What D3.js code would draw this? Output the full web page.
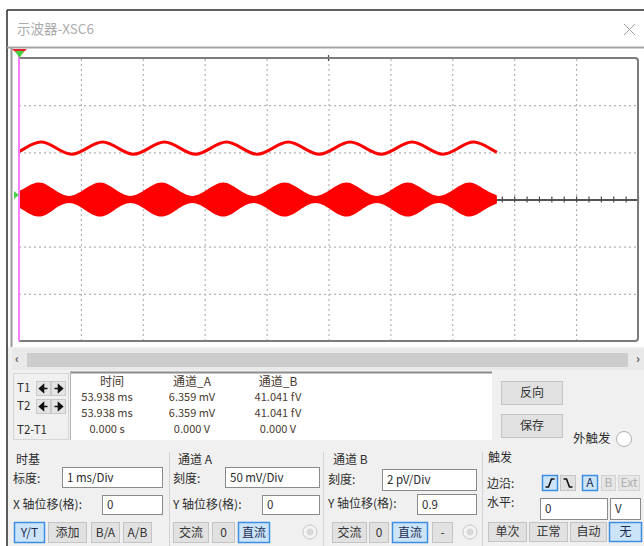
<!DOCTYPE html>
<html>
<head>
<meta charset="utf-8">
<script src="https://cdn.jsdelivr.net/npm/d3@7"></script>
<style>
  html, body { margin: 0; padding: 0; background: #ffffff; }
  svg { display: block; }
  text { font-family: "Noto Sans CJK SC", "Noto Sans", sans-serif; }
</style>
</head>
<body>
<svg id="scope" width="644" height="546"></svg>
<script>
// ---- Channel A: low-frequency sine (time in ms, voltage in mV) ----
const timeA = [0, 0.10, 0.35, 0.60, 0.85, 1.10, 1.35, 1.60, 1.85, 2.10, 2.35, 2.60, 2.85,
  3.10, 3.35, 3.60, 3.85, 4.10, 4.35, 4.60, 4.85, 5.10, 5.35, 5.60, 5.85, 6.10, 6.35,
  6.60, 6.85, 7.10, 7.35, 7.60, 7.72];
const chanA = [50.7, 54.5, 61.0, 54.5, 48.0, 54.5, 61.0, 54.5, 48.0, 54.5, 61.0, 54.5, 48.0,
  54.5, 61.0, 54.5, 48.0, 54.5, 61.0, 54.5, 48.0, 54.5, 61.0, 54.5, 48.0, 54.5, 61.0,
  54.5, 48.0, 54.5, 61.0, 54.5, 50.0];

// ---- Channel B: AM signal, envelope half-amplitude (time in ms, pV) ----
const timeB = [0, 0.06, 0.31, 0.56, 0.81, 1.06, 1.31, 1.55, 1.80, 2.05, 2.30, 2.55, 2.80,
  3.05, 3.30, 3.54, 3.79, 4.04, 4.29, 4.54, 4.79, 5.04, 5.29, 5.53, 5.78, 6.03, 6.28,
  6.53, 6.78, 7.03, 7.28, 7.52, 7.72];
const envB = [0.40, 0.43, 0.72, 0.43, 0.15, 0.43, 0.72, 0.43, 0.15, 0.43, 0.72, 0.43, 0.15,
  0.43, 0.72, 0.43, 0.15, 0.43, 0.72, 0.43, 0.15, 0.43, 0.72, 0.43, 0.15, 0.43, 0.72,
  0.43, 0.15, 0.43, 0.72, 0.43, 0.17];

// ---- Read-out table ----
const readHeaders = ["时间", "通道_A", "通道_B"];
const readT1 = ["53.938 ms", "6.359 mV", "41.041 fV"];
const readT2 = ["53.938 ms", "6.359 mV", "41.041 fV"];
const readDiff = ["0.000 s", "0.000 V", "0.000 V"];

// ---- Control settings ----
const timebase = "1 ms/Div";
const xOffset = "0";
const scaleA = "50 mV/Div";
const offsetA = "0";
const scaleB = "2 pV/Div";
const offsetB = "0.9";
const trigLevel = "0";
const trigUnit = "V";

const svg = d3.select("#scope");

// ---------- window chrome ----------
svg.append("rect").attr("x", 0).attr("y", 0).attr("width", 644).attr("height", 546).attr("fill", "#ffffff");
svg.append("rect").attr("x", 7).attr("y", 347).attr("width", 637).attr("height", 199).attr("fill", "#f0f0f0");
svg.append("line").attr("x1", 7).attr("x2", 644).attr("y1", 10).attr("y2", 10).attr("stroke", "#2a2a2a").attr("stroke-width", 1.5);
svg.append("line").attr("x1", 7).attr("x2", 7).attr("y1", 10).attr("y2", 546).attr("stroke", "#2a2a2a").attr("stroke-width", 1.5);
svg.append("text").attr("x", 17).attr("y", 29.5).attr("dy", "0.35em")
  .attr("font-size", 13.5).attr("fill", "#ababab").text("示波器-XSC6");
svg.append("path").attr("d", "M624,24L635,35M635,24L624,35").attr("stroke", "#a0a0a0").attr("stroke-width", 1).attr("fill", "none");
svg.append("line").attr("x1", 7).attr("x2", 644).attr("y1", 47.5).attr("y2", 47.5).attr("stroke", "#a6a6a6").attr("stroke-width", 2);
svg.append("line").attr("x1", 11.5).attr("x2", 11.5).attr("y1", 48).attr("y2", 347).attr("stroke", "#9a9a9a").attr("stroke-width", 2);

// ---------- scope screen ----------
const L = 19, R = 638, T = 58, B = 341;
const x = d3.scaleLinear().domain([0, 10]).range([L, R]);          // 1 ms/Div, 10 divisions
const yA = d3.scaleLinear().domain([-150, 150]).range([B, T]);     // 50 mV/Div, 6 divisions
const yB = d3.scaleLinear().domain([-6, 6]).range([B, T]);         // 2 pV/Div

const screen = svg.append("g");
screen.append("rect").attr("x", L).attr("y", T).attr("width", R - L).attr("height", B - T).attr("fill", "#ffffff");

// dotted division grid
const gx = screen.append("g").attr("transform", `translate(0,${B})`)
  .call(d3.axisBottom(x).tickValues(d3.range(1, 10)).tickSize(-(B - T)).tickFormat(""));
const gy = screen.append("g").attr("transform", `translate(${L},0)`)
  .call(d3.axisLeft(yA).tickValues([-100, -50, 0, 50, 100]).tickSize(-(R - L)).tickFormat(""));
[gx, gy].forEach(g => {
  g.select(".domain").remove();
  g.selectAll(".tick line").attr("stroke", "#b3b3b3").attr("stroke-width", 1.2).attr("stroke-dasharray", "2,3");
});

// centre time axis with minor ticks
const minor = d3.range(0, 10.001, 0.2);
[d3.axisBottom(x), d3.axisTop(x)].forEach(ax => {
  const g = screen.append("g").attr("transform", `translate(0,${yA(0)})`)
    .call(ax.tickValues(minor).tickSize(3).tickSizeOuter(0).tickFormat(""));
  g.select(".domain").attr("stroke", "#4a4a4a").attr("stroke-width", 1.6);
  g.selectAll(".tick line").attr("stroke", "#4a4a4a").attr("stroke-width", 1.2);
});
// small mark at the top of the centre division
screen.append("line").attr("x1", x(5)).attr("x2", x(5)).attr("y1", T - 3).attr("y2", T + 3)
  .attr("stroke", "#4a4a4a").attr("stroke-width", 1.2);

// screen border
screen.append("path")
  .attr("d", `M${L},${T}H${R - 3}Q${R},${T} ${R},${T + 3}V${B - 3}Q${R},${B} ${R - 3},${B}H${L}`)
  .attr("fill", "none").attr("stroke", "#7c7c7c").attr("stroke-width", 2);

// channel B: AM burst drawn as its envelope area
const ptsB = timeB.map((t, i) => ({ t, v: envB[i] }));
screen.append("path").datum(ptsB)
  .attr("fill", "#ff0000")
  .attr("d", d3.area().x(d => x(d.t)).y0(d => yB(-d.v)).y1(d => yB(d.v)).curve(d3.curveNatural));

// channel A trace
const ptsA = timeA.map((t, i) => ({ t, v: chanA[i] }));
screen.append("path").datum(ptsA)
  .attr("fill", "none").attr("stroke", "#ff0000").attr("stroke-width", 3)
  .attr("d", d3.line().x(d => x(d.t)).y(d => yA(d.v)).curve(d3.curveNatural));

// cursor line and markers
screen.append("line").attr("x1", x(0)).attr("x2", x(0)).attr("y1", 52).attr("y2", B)
  .attr("stroke", "#ff7cff").attr("stroke-width", 2);
screen.append("path").attr("d", "M12,49L27,49L19.5,56Z").attr("fill", "#e8222a");
screen.append("path").attr("d", "M15,51L24,51L19.5,58Z").attr("fill", "#3fcf3f");
screen.append("path").attr("d", "M14,191L19,195L14,199Z").attr("fill", "#4ed04e");

// ---------- scroll bar ----------
svg.append("rect").attr("x", 12).attr("y", 348).attr("width", 632).attr("height", 22).attr("fill", "#e9e9e9");
svg.append("rect").attr("x", 27).attr("y", 353).attr("width", 601).attr("height", 14).attr("fill", "#cdcdcd");
svg.append("text").attr("x", 17).attr("y", 359).attr("dy", "0.35em").attr("font-size", 12).attr("font-weight", "bold")
  .attr("fill", "#555").attr("text-anchor", "middle").text("‹");
svg.append("text").attr("x", 638).attr("y", 359).attr("dy", "0.35em").attr("font-size", 12).attr("font-weight", "bold")
  .attr("fill", "#555").attr("text-anchor", "middle").text("›");

// ---------- helpers ----------
function label(px, py, str, opts = {}) {
  return svg.append("text").attr("x", px).attr("y", py).attr("dy", "0.35em")
    .attr("font-size", opts.size || 12).attr("fill", opts.color || "#2e2e2e")
    .attr("text-anchor", opts.anchor || "start").attr("font-weight", opts.weight || "normal")
    .text(str);
}
function button(x0, y0, w, h, str, state) {
  const sel = state === "on", dis = state === "off";
  svg.append("rect").attr("x", x0 + 0.5).attr("y", y0 + 0.5).attr("width", w - 1).attr("height", h - 1)
    .attr("fill", sel ? "#cce4f7" : (dis ? "#e6e6e6" : "#e1e1e1"))
    .attr("stroke", sel ? "#3d8ee0" : (dis ? "#d3d3d3" : "#c4c4c4")).attr("stroke-width", sel ? 1.5 : 1);
  if (str !== null) {
    label(x0 + w / 2, y0 + h / 2, str, { anchor: "middle", size: 12,
      color: dis ? "#b0b0b0" : (sel ? "#1c2d55" : "#333") });
  }
}
function input(x0, y0, w, h, str) {
  svg.append("rect").attr("x", x0 + 0.5).attr("y", y0 + 0.5).attr("width", w - 1).attr("height", h - 1)
    .attr("fill", "#ffffff").attr("stroke", "#8a8a8a");
  label(x0 + 5, y0 + h / 2, str, { size: 11.5, color: "#2a2a2a" });
}
function radio(cx, cy) {
  svg.append("circle").attr("cx", cx).attr("cy", cy).attr("r", 7).attr("fill", "#f4f4f4").attr("stroke", "#c8c8c8");
  svg.append("circle").attr("cx", cx).attr("cy", cy).attr("r", 3.5).attr("fill", "#d8d8d8");
}

// ---------- cursor controls ----------
svg.append("rect").attr("x", 13.5).attr("y", 373.5).attr("width", 55).attr("height", 66)
  .attr("fill", "#f0f0f0").attr("stroke", "#d6d6d6");
label(17, 388, "T1", { size: 11.5 });
label(17, 406, "T2", { size: 11.5 });
label(17, 430, "T2-T1", { size: 11.5 });
function arrowBtn(x0, y0, dir) {
  svg.append("rect").attr("x", x0 + 0.5).attr("y", y0 + 0.5).attr("width", 14).attr("height", 14)
    .attr("fill", "#e4e4e4").attr("stroke", "#c9c9c9");
  const cx = x0 + 7.5, cy = y0 + 7.5;
  const p = dir < 0
    ? `M${cx - 4},${cy}L${cx},${cy - 3.5}L${cx},${cy + 3.5}Z M${cx},${cy}H${cx + 4}`
    : `M${cx + 4},${cy}L${cx},${cy - 3.5}L${cx},${cy + 3.5}Z M${cx},${cy}H${cx - 4}`;
  svg.append("path").attr("d", p).attr("fill", "#111").attr("stroke", "#111").attr("stroke-width", 1.6);
}
arrowBtn(36, 381, -1); arrowBtn(51, 381, 1);
arrowBtn(36, 399, -1); arrowBtn(51, 399, 1);

// ---------- read-out table ----------
svg.append("rect").attr("x", 70).attr("y", 372).attr("width", 422).attr("height", 68).attr("fill", "#ffffff");
svg.append("line").attr("x1", 70).attr("x2", 492).attr("y1", 372.5).attr("y2", 372.5).attr("stroke", "#8c8c8c").attr("stroke-width", 2);
svg.append("line").attr("x1", 70.5).attr("x2", 70.5).attr("y1", 372).attr("y2", 440).attr("stroke", "#b4b4b4");
const colX = [107, 192, 278];
readHeaders.forEach((h, i) => label(colX[i] + (i === 0 ? 5 : 0), 382, h, { anchor: "middle", size: 12, color: "#4a3a30" }));
[readT1, readT2, readDiff].forEach((row, r) => {
  row.forEach((v, i) => label(colX[i], [397, 413, 429][r], v, { anchor: "middle", size: 11, color: "#4a3a30" }));
});

button(501, 381, 62, 24, "反向");
button(501, 414, 62, 24, "保存");
label(573, 439, "外触发", { size: 12.5 });
svg.append("circle").attr("cx", 624).attr("cy", 439).attr("r", 7.5).attr("fill", "#ffffff").attr("stroke", "#b0b0b0");

// ---------- group separators ----------
[169.5, 323.5, 482.5].forEach(sx => {
  svg.append("line").attr("x1", sx).attr("x2", sx).attr("y1", 452).attr("y2", 546).attr("stroke", "#d4d4d4");
});

// ---------- timebase ----------
label(16, 460, "时基");
label(13, 479, "标度:");
input(62, 467, 101, 21, timebase);
label(13, 505, "X 轴位移(格):");
input(102, 495, 61, 20, xOffset);
button(14, 522, 31, 21, "Y/T", "on");
button(48, 522, 39, 21, "添加");
button(91, 522, 29, 21, "B/A");
button(123, 522, 29, 21, "A/B");

// ---------- channel A ----------
label(178, 460, "通道 A");
label(173, 479, "刻度:");
input(225, 467, 95, 21, scaleA);
label(173, 505, "Y 轴位移(格):");
input(262, 495, 58, 20, offsetA);
button(173, 522, 36, 21, "交流");
button(212, 522, 23, 21, "0");
button(238, 522, 32, 21, "直流", "on");
radio(310, 532);

// ---------- channel B ----------
label(333, 460, "通道 B");
label(328, 480, "刻度:");
input(382, 469, 95, 22, scaleB);
label(328, 504, "Y 轴位移(格):");
input(417, 494, 60, 21, offsetB);
button(332, 522, 35, 21, "交流");
button(369, 522, 20, 21, "0");
button(392, 522, 36, 21, "直流", "on");
button(432, 522, 21, 21, "-");
radio(470, 532);

// ---------- trigger ----------
label(488, 458, "触发");
label(487, 484, "边沿:");
label(487, 503, "水平:");
button(542, 475, 16, 16, null, "on");
svg.append("path").attr("d", "M545.5,487H548.5L551.5,479H554.5").attr("fill", "none").attr("stroke", "#111").attr("stroke-width", 1.6);
button(560, 475, 16, 16, null);
svg.append("path").attr("d", "M563.5,479H566.5L569.5,487H572.5").attr("fill", "none").attr("stroke", "#111").attr("stroke-width", 1.6);
button(582, 475, 16, 16, "A", "on");
button(601, 475, 15, 16, "B", "off");
button(618, 475, 22, 16, "Ext", "off");
input(540, 498, 68, 22, trigLevel);
input(610, 498, 31, 22, trigUnit);
button(488, 522, 39, 20, "单次");
button(529, 522, 39, 20, "正常");
button(570, 522, 37, 20, "自动");
button(609, 522, 33, 20, "无", "on");
</script>
</body>
</html>
